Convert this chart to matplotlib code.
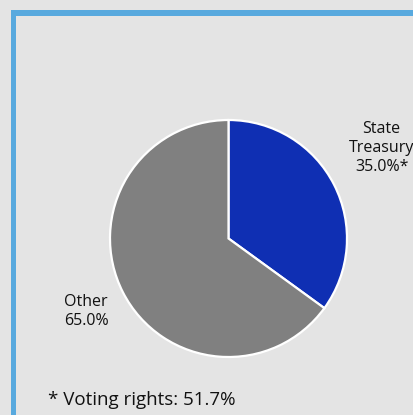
import matplotlib
matplotlib.use('Agg')
import matplotlib.pyplot as plt
import numpy as np
from matplotlib.patches import Rectangle

plt.rcParams['font.family'] = ['Open Sans', 'DejaVu Sans']

# Shareholder structure
labels = ['State\nTreasury', 'Other']
shares = [35.0, 65.0]
marks = ['*', '']
colors = ['#0F2FB3', '#808080']
voting_rights = 51.7

W, H = 414, 415
fig = plt.figure(figsize=(W / 100, H / 100), dpi=100)
fig.patch.set_facecolor('#E4E4E4')

# blue frame: top and left edges only
fig.add_artist(Rectangle((11 / W, 0), 5 / W, (H - 10) / H, transform=fig.transFigure,
                         color='#58A9DE', lw=0))
fig.add_artist(Rectangle((11 / W, (H - 16) / H), (W - 11) / W, 6 / H,
                         transform=fig.transFigure, color='#58A9DE', lw=0))

cx, cy, r = 228.5, 238.5, 118.5
ax = fig.add_axes([(cx - r) / W, (H - cy - r) / H, 2 * r / W, 2 * r / H])
wedges, _ = ax.pie(shares, colors=colors, startangle=90, counterclock=False,
                   radius=1, wedgeprops=dict(edgecolor='white', linewidth=1.6))
ax.set_xlim(-1, 1)
ax.set_ylim(-1, 1)
ax.set_aspect('equal')

# label placement per slice: distance (radii) and angular nudge (deg)
dists = [1.50, 1.35]
nudges = [3.5, 0.0]
for w, lab, val, mk, d, nd in zip(wedges, labels, shares, marks, dists, nudges):
    ang = np.deg2rad((w.theta1 + w.theta2) / 2 + nd)
    ax.text(d * np.cos(ang), d * np.sin(ang), f'{lab}\n{val:.1f}%{mk}',
            ha='center', va='center', fontsize=11.5, color='#111111',
            linespacing=1.25, clip_on=False)

fig.text(48 / W, 1 - 400 / H, f'* Voting rights: {voting_rights:.1f}%',
         ha='left', va='center', fontsize=13.5, color='#111111')

fig.savefig('out.png', dpi=100, facecolor=fig.get_facecolor())
